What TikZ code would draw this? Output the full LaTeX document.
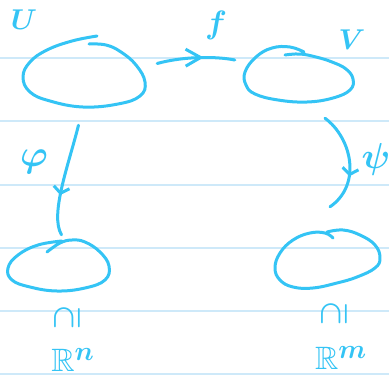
\documentclass[tikz,border=0pt]{standalone}
\usepackage{amssymb}
\usepackage{amsmath}
\usepackage{tikz}
\usetikzlibrary{arrows.meta,decorations.markings}
\definecolor{ink}{RGB}{52,196,245}
\definecolor{ruling}{RGB}{206,233,249}
\newcommand{\RR}{\mathbb{R}}
\newcommand{\incl}{\rotatebox{90}{$\supseteq$}}

\begin{document}
\begin{tikzpicture}
    [x=1pt, y=-1pt,
     pen/.style={ink, line width=3pt, line cap=round, line join=round},
     set/.style 2 args={inner sep=0pt, minimum width=#1pt, minimum height=#2pt},
     lbl/.style={text=ink, font=\Huge\boldmath, scale=#1},
     lbl/.default=1.15,
     bigtip/.style={decoration={markings, mark=at position #1 with
       {\arrow{Straight Barb[length=15pt, width=17pt]}}}, postaction=decorate},
     smalltip/.style={decoration={markings, mark=at position #1 with
       {\arrow{Straight Barb[length=6pt, width=16pt]}}}, postaction=decorate}]
    % paper
    \useasboundingbox (0,0) rectangle (389,376);
    \fill[white] (0,0) rectangle (389,376);
    \foreach \y in {58,121,185,248,311,374}
      \draw[ruling, line width=1.5pt] (0,\y) -- (389,\y);
    % sets
    \node[set={123}{71}] (U) at (84.5,71.5) {};
    \node[set={110}{58}] (V) at (298,74) {};
    \node[set={101}{51}] (Bn) at (58.5,265.5) {};
    \node[set={105}{61}] (Bm) at (327.5,259.5) {};
    \draw[pen] plot[smooth, tension=0.7] coordinates {(97,36) (72,41) (47,50) (30,62)
      (23,77) (30,92) (50,101) (83,107) (118,104) (140,96) (145,82) (136,65)
      (121,52) (106,45) (89,44)};
    \draw[pen] plot[smooth, tension=0.7] coordinates {(304,52) (290,47) (272,48)
      (256,57) (245,72) (246,85) (255,94) (278,100) (307,102) (333,98) (350,90)
      (353,79) (346,69) (332,62) (316,57) (300,54) (285,55)};
    \draw[pen] plot[smooth, tension=0.7] coordinates {(47,252) (60,243) (72,240)
      (85,242) (100,252) (109,266) (105,280) (85,288) (57,291) (30,287) (12,280)
      (8,268) (18,255) (38,245) (62,241)};
    \draw[pen] plot[smooth, tension=0.7] coordinates {(327,232) (343,230) (360,235)
      (375,245) (380,258) (375,268) (357,277) (337,283) (313,288) (293,287)
      (280,280) (275,268) (280,253) (293,240) (310,233) (325,233) (333,238)};
    % maps
    \draw[pen, bigtip=0.6] ([shift={(11,-8)}]U.east) .. controls +(25,-7) and +(-20,-4) .. ([shift={(-8,-14)}]V.west);
    \draw[pen, smalltip=0.64] ([shift={(-6,18)}]U.south) .. controls +(-10,40) and +(-12,-20) .. ([shift={(3,-5)}]Bn.north);
    \draw[pen, smalltip=0.64] ([shift={(27,15)}]V.south) .. controls +(27,20) and +(32,-22) .. ([shift={(2.5,-22)}]Bm.north);
    % labels
    \node[lbl] (lU) at (24,20) {$U$};
    \node[lbl=1.3] (lf) at (216,25) {$f$};
    \node[lbl] (lV) at (352,40) {$V$};
    \node[lbl=1.5] (lphi) at (34,162) {$\varphi$};
    \node[lbl=1.45] (lpsi) at (376,159) {$\psi$};
    \node[lbl] (incn) at (67,318) {\incl};
    \node[lbl] (incm) at (334,314) {\incl};
    \node[lbl=1.3] (Rn) at (73,360) {$\RR^n$};
    \node[lbl=1.3] (Rm) at (341,358) {$\RR^m$};
\end{tikzpicture}
\end{document}
